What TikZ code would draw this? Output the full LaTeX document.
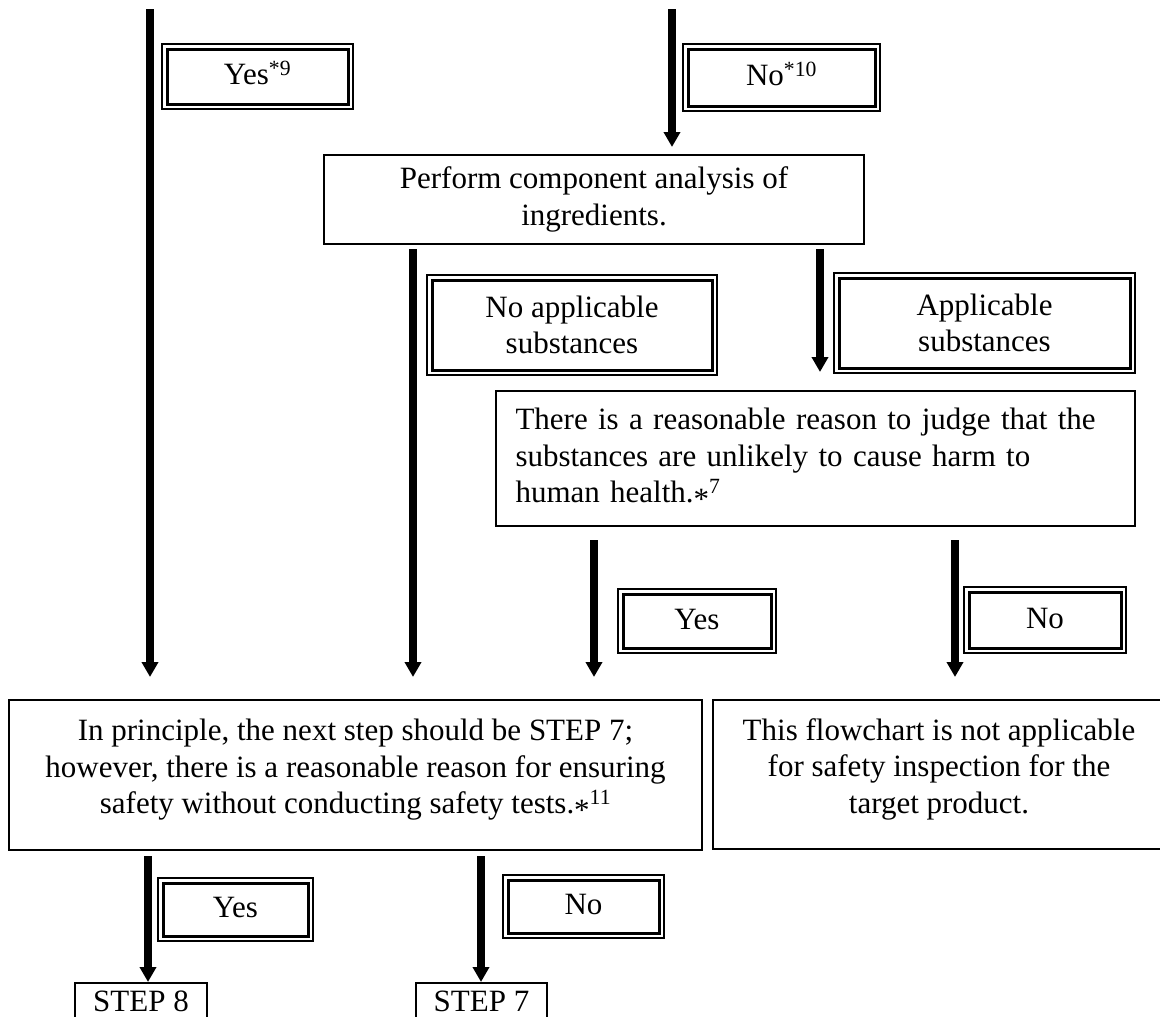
\documentclass[tikz,border=0pt]{standalone}
\usepackage{fontspec}
\setmainfont{Liberation Serif}
\usetikzlibrary{arrows.meta}
\newcommand\mainfs{\fontsize{31pt}{36.7pt}\selectfont}
\newcommand\lowpad{\rule[-17pt]{0pt}{17pt}}
\newcommand\midast{\raisebox{-6.5pt}{*}}
\tikzset{
  box/.style={draw, line width=2pt, inner sep=0pt, align=center},
  dbox/.style={draw, line width=1.3pt, inner sep=0pt, align=center,
    path picture={\draw[line width=3pt]
      ([shift={(5pt,-5pt)}]path picture bounding box.north west) rectangle
      ([shift={(-5pt,5pt)}]path picture bounding box.south east);}},
  lbl/.style={text height=22pt, text depth=6pt},
  stepbox/.style={draw, line width=2pt, inner xsep=0pt, inner ysep=6pt, anchor=north,
    text height=22pt, text depth=30pt},
  arr/.style={line width=7.5pt, -{Triangle[width=16pt,length=15pt]}},
}
\begin{document}
\begin{tikzpicture}[x=1pt, y=-1pt, every node/.style={font=\mainfs}]
\clip (0,0) rectangle (1160,1017);
% boxes
\node[dbox, lbl, minimum width=191pt, minimum height=65pt] (yes9) at (257.5,76.5) {Yes\textsuperscript{*9}};
\node[dbox, lbl, minimum width=197pt, minimum height=67pt] (no10) at (781.5,77.5) {No\textsuperscript{*10}};
\node[box, minimum width=540pt, minimum height=89pt] (perf) at (594,199.5) {Perform component analysis of\\ingredients.};
\node[dbox, minimum width=290pt, minimum height=100pt] (noapp) at (572,325) {No applicable\\substances};
\node[dbox, minimum width=301pt, minimum height=100pt] (app) at (984.5,323) {Applicable\\substances};
\node[box, align=left, text width=600pt, minimum width=639pt, minimum height=135pt] (reas) at (815.5,458.5)
  {There is a reasonable reason to judge that the\\substances are unlikely to cause harm to\\human health.\midast\textsuperscript{7}};
\node[dbox, lbl, minimum width=158pt, minimum height=64pt] (yesm) at (697,621) {Yes};
\node[dbox, lbl, minimum width=162pt, minimum height=66pt] (nom) at (1045,620) {No};
\node[box, minimum width=693pt, minimum height=150pt] (big) at (355.5,775)
  {In principle, the next step should be STEP 7;\\however, there is a reasonable reason for ensuring\\safety without conducting safety tests.\midast\textsuperscript{11}\lowpad};
\node[box, minimum width=452pt, minimum height=149pt] (na) at (939,774.5)
  {This flowchart is not applicable\\for safety inspection for the\\target product.\lowpad};
\node[dbox, lbl, minimum width=155pt, minimum height=63pt] (yesb) at (235.5,909.5) {Yes};
\node[dbox, lbl, minimum width=161pt, minimum height=63pt] (nob) at (583.5,906.5) {No};
\node[stepbox, minimum width=132pt] (s8) at (141,982) {STEP 8};
\node[stepbox, minimum width=131pt] (s7) at (481.5,982) {STEP 7};
% x positions of connectors
\coordinate (t1) at (150,9);
\coordinate (t2) at (672,9);
\coordinate (x3) at (413,0);
\coordinate (x4) at (820,0);
\coordinate (x5) at (594,0);
\coordinate (x6) at (955,0);
\coordinate (x7) at (148,0);
\coordinate (x8) at (481,0);
% connectors
\draw[arr, shorten >=22pt] (t1) -- (big.north -| t1);
\draw[arr, shorten >=7pt] (t2) -- (perf.north -| t2);
\draw[arr, shorten <=4pt, shorten >=22pt] (perf.south -| x3) -- (big.north -| x3);
\draw[arr, shorten <=4pt, shorten >=18pt] (perf.south -| x4) -- (reas.north -| x4);
\draw[arr, shorten <=13pt, shorten >=22pt] (reas.south -| x5) -- (big.north -| x5);
\draw[arr, shorten <=13pt, shorten >=22pt] (reas.south -| x6) -- (na.north -| x6);
\draw[arr, shorten <=5pt] (big.south -| x7) -- (s8.north -| x7);
\draw[arr, shorten <=5pt] (big.south -| x8) -- (s7.north -| x8);
\end{tikzpicture}
\end{document}
